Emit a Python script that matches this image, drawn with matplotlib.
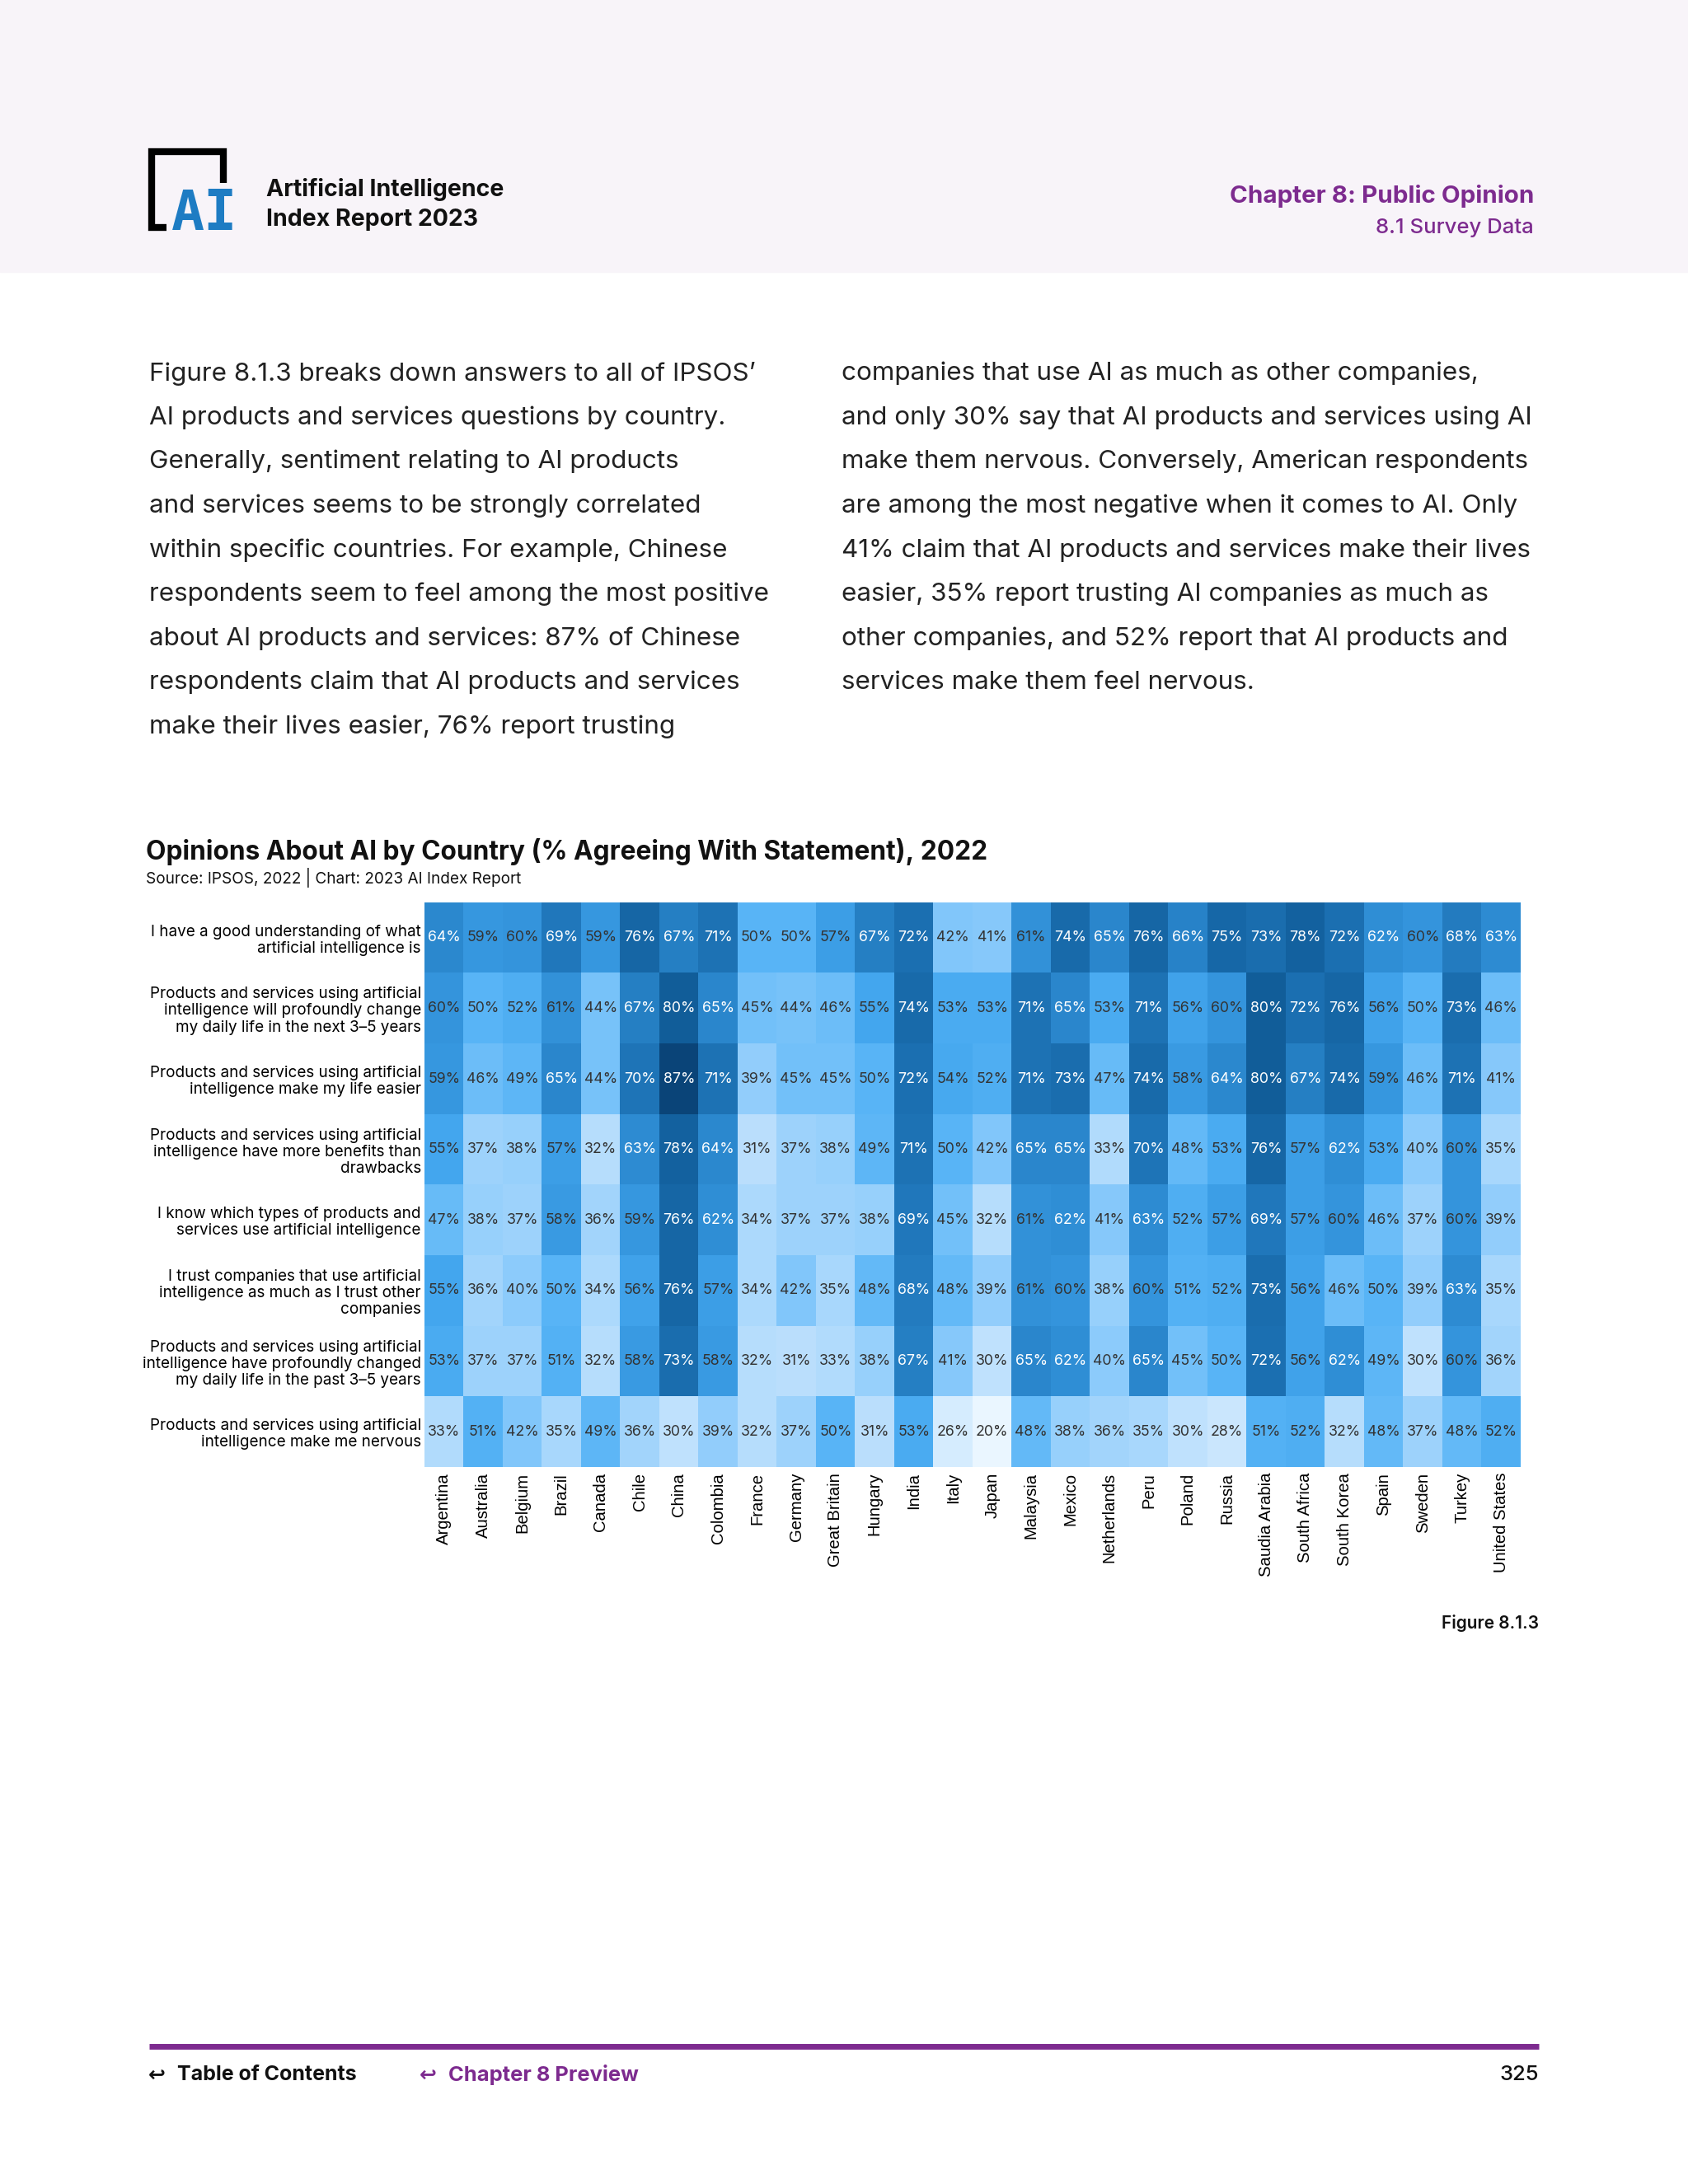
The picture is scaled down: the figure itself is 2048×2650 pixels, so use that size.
import numpy as np
import matplotlib
matplotlib.use("Agg")
import matplotlib.pyplot as plt
from matplotlib.colors import LinearSegmentedColormap
from matplotlib.patches import Rectangle

# ---------------- data ----------------
countries = ["Argentina", "Australia", "Belgium", "Brazil", "Canada", "Chile", "China",
             "Colombia", "France", "Germany", "Great Britain", "Hungary", "India", "Italy",
             "Japan", "Malaysia", "Mexico", "Netherlands", "Peru", "Poland", "Russia",
             "Saudia Arabia", "South Africa", "South Korea", "Spain", "Sweden", "Turkey",
             "United States"]

statements = [
    "I have a good understanding of what\nartificial intelligence is",
    "Products and services using artificial\nintelligence will profoundly change\nmy daily life in the next 3–5 years",
    "Products and services using artificial\nintelligence make my life easier",
    "Products and services using artificial\nintelligence have more benefits than\ndrawbacks",
    "I know which types of products and\nservices use artificial intelligence",
    "I trust companies that use artificial\nintelligence as much as I trust other\ncompanies",
    "Products and services using artificial\nintelligence have profoundly changed\nmy daily life in the past 3–5 years",
    "Products and services using artificial\nintelligence make me nervous",
]

understanding = [64, 59, 60, 69, 59, 76, 67, 71, 50, 50, 57, 67, 72, 42, 41, 61, 74, 65, 76, 66, 75, 73, 78, 72, 62, 60, 68, 63]
change_future = [60, 50, 52, 61, 44, 67, 80, 65, 45, 44, 46, 55, 74, 53, 53, 71, 65, 53, 71, 56, 60, 80, 72, 76, 56, 50, 73, 46]
life_easier   = [59, 46, 49, 65, 44, 70, 87, 71, 39, 45, 45, 50, 72, 54, 52, 71, 73, 47, 74, 58, 64, 80, 67, 74, 59, 46, 71, 41]
more_benefits = [55, 37, 38, 57, 32, 63, 78, 64, 31, 37, 38, 49, 71, 50, 42, 65, 65, 33, 70, 48, 53, 76, 57, 62, 53, 40, 60, 35]
know_which    = [47, 38, 37, 58, 36, 59, 76, 62, 34, 37, 37, 38, 69, 45, 32, 61, 62, 41, 63, 52, 57, 69, 57, 60, 46, 37, 60, 39]
trust_cos     = [55, 36, 40, 50, 34, 56, 76, 57, 34, 42, 35, 48, 68, 48, 39, 61, 60, 38, 60, 51, 52, 73, 56, 46, 50, 39, 63, 35]
changed_past  = [53, 37, 37, 51, 32, 58, 73, 58, 32, 31, 33, 38, 67, 41, 30, 65, 62, 40, 65, 45, 50, 72, 56, 62, 49, 30, 60, 36]
nervous       = [33, 51, 42, 35, 49, 36, 30, 39, 32, 37, 50, 31, 53, 26, 20, 48, 38, 36, 35, 30, 28, 51, 52, 32, 48, 37, 48, 52]

# ---------------- style ----------------
plt.rcParams['font.family'] = ['Inter', 'DejaVu Sans']
PURPLE = "#7d2b8f"
W, H = 2048, 2650
fig = plt.figure(figsize=(W / 100, H / 100), dpi=100)

bg = fig.add_axes([0, 0, 1, 1])
bg.set_xlim(0, W)
bg.set_ylim(H, 0)
bg.axis("off")

# header band
bg.add_patch(Rectangle((0, 0), W, 330, color="#f8f4f9", zorder=0))
# logo
bg.plot([202, 184, 184, 271, 271], [276, 276, 184, 184, 222], color="black",
        lw=6, solid_capstyle="butt", solid_joinstyle="miter", zorder=2)
bg.text(248, 279, "AI", fontsize=48, fontweight="bold", color="#1e7cc3",
        family="DejaVu Sans Mono", ha="center", va="baseline", zorder=2)
bg.text(323, 230, "Artificial Intelligence", fontsize=20.5, fontweight="bold",
        color="#111111", va="center", ha="left")
bg.text(323, 266, "Index Report 2023", fontsize=20.5, fontweight="bold",
        color="#111111", va="center", ha="left")
bg.text(1861, 238, "Chapter 8: Public Opinion", fontsize=21.3, fontweight="bold",
        color=PURPLE, va="center", ha="right")
bg.text(1861, 277, "8.1 Survey Data", fontsize=18.5, fontweight="medium",
        color=PURPLE, va="center", ha="right")

left_par = ["Figure 8.1.3 breaks down answers to all of IPSOS’",
            "AI products and services questions by country.",
            "Generally, sentiment relating to AI products",
            "and services seems to be strongly correlated",
            "within specific countries. For example, Chinese",
            "respondents seem to feel among the most positive",
            "about AI products and services: 87% of Chinese",
            "respondents claim that AI products and services",
            "make their lives easier, 76% report trusting"]
right_par = ["companies that use AI as much as other companies,",
             "and only 30% say that AI products and services using AI",
             "make them nervous. Conversely, American respondents",
             "are among the most negative when it comes to AI. Only",
             "41% claim that AI products and services make their lives",
             "easier, 35% report trusting AI companies as much as",
             "other companies, and 52% report that AI products and",
             "services make them feel nervous."]
for k, line in enumerate(left_par):
    bg.text(181, 453 + 53.6 * k, line, fontsize=22.6, color="#222222",
            va="center", ha="left")
for k, line in enumerate(right_par):
    bg.text(1021, 453 + 53.6 * k, line, fontsize=22.6, color="#222222",
            va="center", ha="left")

bg.text(177, 1034, "Opinions About AI by Country (% Agreeing With Statement), 2022",
        fontsize=22.8, fontweight="bold", color="#111111", va="center", ha="left")
bg.text(177, 1065, "Source: IPSOS, 2022 | Chart: 2023 AI Index Report",
        fontsize=13.7, color="#111111", va="center", ha="left")

bg.text(1867, 1970, "Figure 8.1.3", fontsize=15, fontweight="semibold",
        color="#111111", va="center", ha="right")

# footer
bg.plot([181, 1867], [2483, 2483], color=PURPLE, lw=5, solid_capstyle="butt")
bg.text(180, 2518, "↩", fontsize=18, fontweight="bold", color="#111111",
        family="DejaVu Sans", va="center", ha="left")
bg.text(215, 2518, "Table of Contents", fontsize=18, fontweight="bold",
        color="#111111", va="center", ha="left")
bg.text(509, 2518, "↩", fontsize=18, fontweight="bold", color=PURPLE,
        family="DejaVu Sans", va="center", ha="left")
bg.text(544, 2518, "Chapter 8 Preview", fontsize=18.4, fontweight="bold",
        color=PURPLE, va="center", ha="left")
bg.text(1867, 2518, "325", fontsize=18.5, fontweight="medium",
        color="#111111", va="center", ha="right")

# ---------------- heatmap ----------------
data = np.array([understanding, change_future, life_easier, more_benefits,
                 know_which, trust_cos, changed_past, nervous], dtype=float)

anchors = [(20, "#eaf6ff"), (26, "#d5ecfe"), (30, "#bfe1fd"), (35, "#a8d7fc"),
           (40, "#8ccbfb"), (45, "#72c0f9"), (50, "#58b4f6"), (55, "#43a6ee"),
           (60, "#3494dc"), (65, "#2a86cc"), (70, "#1f75b8"), (75, "#1768a8"),
           (80, "#125e9a"), (87, "#0a4478")]
vmin, vmax = 20, 87
cmap = LinearSegmentedColormap.from_list(
    "ai_blues", [((v - vmin) / (vmax - vmin), c) for v, c in anchors])

x0, x1 = 515, 1845
y0, y1 = 1095, 1780
ax = fig.add_axes([x0 / W, 1 - y1 / H, (x1 - x0) / W, (y1 - y0) / H])
ax.imshow(data, cmap=cmap, vmin=vmin, vmax=vmax, aspect="auto",
          interpolation="nearest")
for j in range(data.shape[0]):
    for i in range(data.shape[1]):
        v = data[j, i]
        ax.text(i, j, f"{int(v)}%", ha="center", va="center", fontsize=12.8,
                color="white" if v >= 62 else "#333333")

ax.set_xticks(range(len(countries)))
ax.set_xticklabels(countries, rotation=90, fontsize=14.6, family="Liberation Sans",
                   va="top", ha="center")
ax.set_yticks(range(len(statements)))
ax.set_yticklabels(statements, fontsize=13.6, linespacing=1.15)
ax.tick_params(length=0, pad=5)
ax.tick_params(axis="y", pad=3)
for s in ax.spines.values():
    s.set_visible(False)

fig.savefig("out.png", dpi=100)
